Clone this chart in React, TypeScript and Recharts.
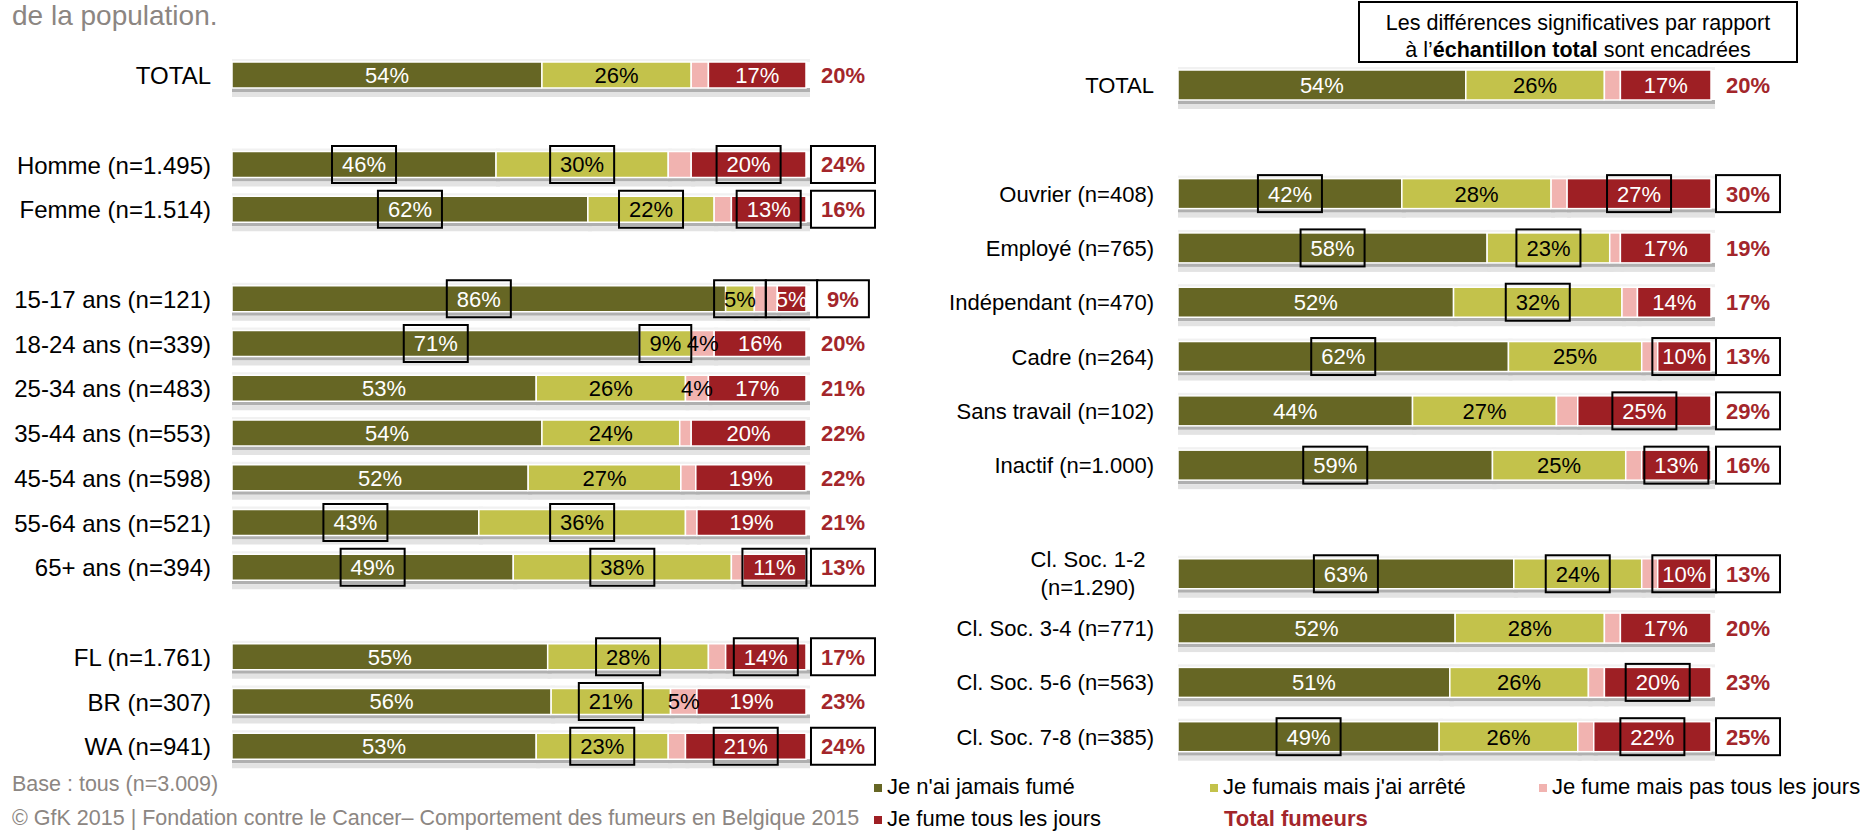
import React from 'react'
import { BarChart, Bar, XAxis, YAxis } from 'recharts'

const FONT = '"Liberation Sans", Arial, Helvetica, sans-serif'
const C_NEVER = '#666624'
const C_STOPPED = '#c3c24b'
const C_OCCASIONAL = '#f1b3b0'
const C_DAILY = '#9e1f24'
const C_TOTAL = '#a3262b'
const GREY_TEXT = '#8c8682'

const SERIES = [
  { key: 'never', name: "Je n'ai jamais fumé", color: C_NEVER, text: '#fff' },
  { key: 'stopped', name: "Je fumais mais j'ai arrêté", color: C_STOPPED, text: '#000' },
  { key: 'occasional', name: 'Je fume mais pas tous les jours', color: C_OCCASIONAL, text: '#000' },
  { key: 'daily', name: 'Je fume tous les jours', color: C_DAILY, text: '#fff' },
]

// left panel: sexe, âge, région (blank names are spacer rows)
const leftLabels = [
  'TOTAL', ' ', 'Homme (n=1.495)', 'Femme (n=1.514)', '  ',
  '15-17 ans (n=121)', '18-24 ans (n=339)', '25-34 ans (n=483)', '35-44 ans (n=553)',
  '45-54 ans (n=598)', '55-64 ans (n=521)', '65+ ans (n=394)', '   ',
  'FL (n=1.761)', 'BR (n=307)', 'WA (n=941)',
]
const leftNever = [54, null, 46, 62, null, 86, 71, 53, 54, 51.6, 43, 49, null, 55, 55.6, 53]
const leftStopped = [26, null, 30, 22, null, 5, 9, 26, 24, 26.6, 36, 38, null, 28, 20.8, 23]
const leftOccasional = [3, null, 4, 3, null, 4, 4, 4, 2, 2.6, 2, 2, null, 3, 4.6, 3]
const leftDaily = [17, null, 20, 13, null, 5, 16, 17, 20, 19.2, 19, 11, null, 14, 19, 21]
const leftTotal = [20, null, 24, 16, null, 9, 20, 21, 22, 22, 21, 13, null, 17, 23, 24]
const leftBoxes = {
  never: [2, 3, 5, 6, 10, 11],
  stopped: [2, 3, 5, 6, 10, 11, 13, 14, 15],
  occasional: [] as number[],
  daily: [2, 3, 5, 11, 13, 15],
  total: [2, 3, 5, 11, 13, 15],
}
const leftOccasionalShown = [6, 7, 14]

// right panel: profession, classe sociale
const rightLabels = [
  'TOTAL', ' ', 'Ouvrier (n=408)', 'Employé (n=765)', 'Indépendant (n=470)', 'Cadre (n=264)',
  'Sans travail (n=102)', 'Inactif (n=1.000)', '  ',
  'Cl. Soc. 1-2\n(n=1.290)', 'Cl. Soc. 3-4 (n=771)', 'Cl. Soc. 5-6 (n=563)', 'Cl. Soc. 7-8 (n=385)',
]
const rightNever = [54, null, 42, 58, 51.7, 62, 44, 59, null, 63, 52, 51, 49]
const rightStopped = [26, null, 28, 23, 31.6, 25, 27, 25, null, 24, 28, 26, 26]
const rightOccasional = [3, null, 3, 2, 2.9, 3, 4, 3, null, 3, 3, 3, 3]
const rightDaily = [17, null, 27, 17, 13.8, 10, 25, 13, null, 10, 17, 20, 22]
const rightTotal = [20, null, 30, 19, 17, 13, 29, 16, null, 13, 20, 23, 25]
const rightBoxes = {
  never: [2, 3, 5, 7, 9, 12],
  stopped: [3, 4, 9],
  occasional: [] as number[],
  daily: [2, 5, 6, 7, 9, 11, 12],
  total: [2, 5, 6, 7, 9, 12],
}
const rightOccasionalShown: number[] = []

function buildRows(labels: string[], never: any[], stopped: any[], occasional: any[], daily: any[], total: any[]) {
  return labels.map((name, i) => ({
    name,
    never: never[i],
    stopped: stopped[i],
    occasional: occasional[i],
    daily: daily[i],
    total: total[i],
  }))
}

const VALUE_FONT = 22
const BOX_H = 37

function ValueLabel({ cx, cy, value, color, boxed, bold }: any) {
  const txt = `${Math.round(value)}%`
  const w = (txt.length - 1) * 0.556 * VALUE_FONT + 0.889 * VALUE_FONT + 20
  return (
    <g>
      {boxed && (
        <rect x={cx - w / 2} y={cy - BOX_H / 2} width={w} height={BOX_H} fill={bold ? '#fff' : 'none'} stroke="#000" strokeWidth={2} />
      )}
      <text
        x={cx}
        y={cy}
        dy="0.36em"
        textAnchor="middle"
        fill={color}
        fontSize={VALUE_FONT}
        fontWeight={bold ? 'bold' : 'normal'}
        fontFamily={FONT}
      >
        {txt}
      </text>
    </g>
  )
}

function segment(x: number, y: number, width: number, height: number, fill: string) {
  return (
    <g>
      <rect x={x} y={y - 3} width={width + 4} height={3} fill="#f1f1f1" />
      <rect x={x} y={y + height} width={width + 4} height={4} fill="#b0b0b0" />
      <rect x={x} y={y + height + 4} width={width + 4} height={5} fill="#e3e3e3" />
      <rect x={x} y={y} width={width} height={height} fill={fill} stroke="#fff" strokeWidth={1.5} />
    </g>
  )
}

function makeSegmentShape(fill: string) {
  return (props: any) => {
    const { x, y, width, height } = props
    if (!width || width <= 0) return <g />
    return segment(x, y, width, height, fill)
  }
}

// the last segment also carries every label of its row, so they sit above all bars
function makeLastShape(boxes: any, occShown: number[]) {
  return (props: any) => {
    const { x, y, width, height, payload, index } = props
    if (!payload || payload.daily == null || !width) return <g />
    const k = width / payload.daily
    const left = x - (payload.never + payload.stopped + payload.occasional) * k
    const cy = y + height / 2
    const centers = [
      left + (payload.never / 2) * k,
      left + (payload.never + payload.stopped / 2) * k,
      left + (payload.never + payload.stopped + payload.occasional / 2) * k,
      x + width / 2,
    ]
    return (
      <g>
        {segment(x, y, width, height, C_DAILY)}
        {SERIES.map((s, i) => {
          if (s.key === 'occasional' && !occShown.includes(index)) return null
          return (
            <ValueLabel
              key={s.key}
              cx={centers[i]}
              cy={cy}
              value={payload[s.key]}
              color={s.text}
              boxed={boxes[s.key].includes(index)}
            />
          )
        })}
        <ValueLabel cx={x + width + 37} cy={cy} value={payload.total} color={C_TOTAL} boxed={boxes.total.includes(index)} bold />
      </g>
    )
  }
}

function CategoryTick({ x, y, payload, fontSize }: any) {
  const value: string = payload?.value ?? ''
  if (!value.trim()) return null
  const lines = value.split('\n')
  if (lines.length > 1) {
    return (
      <text x={x - 66} y={y} textAnchor="middle" fontSize={fontSize} fontFamily={FONT} fill="#000">
        {lines.map((l, i) => (
          <tspan key={i} x={x - 66} dy={i === 0 ? '-0.3em' : '1.25em'}>
            {l}
          </tspan>
        ))}
      </text>
    )
  }
  return (
    <text x={x} y={y} dy="0.36em" textAnchor="end" fontSize={fontSize} fontFamily={FONT} fill="#000">
      {value}
    </text>
  )
}

function Panel({ rows, boxes, occShown, width, height, margin, axisWidth, gap, barSize, fontSize }: any) {
  return (
    <BarChart layout="vertical" width={width} height={height} data={rows} margin={margin} barSize={barSize}>
      <XAxis type="number" domain={[0, 100]} hide />
      <YAxis
        type="category"
        dataKey="name"
        width={axisWidth}
        axisLine={false}
        tickLine={false}
        tickSize={0}
        tickMargin={gap}
        interval={0}
        tick={<CategoryTick fontSize={fontSize} />}
      />
      <Bar dataKey="never" stackId="a" fill={C_NEVER} shape={makeSegmentShape(C_NEVER)} isAnimationActive={false} />
      <Bar dataKey="stopped" stackId="a" fill={C_STOPPED} shape={makeSegmentShape(C_STOPPED)} isAnimationActive={false} />
      <Bar dataKey="occasional" stackId="a" fill={C_OCCASIONAL} shape={makeSegmentShape(C_OCCASIONAL)} isAnimationActive={false} />
      <Bar dataKey="daily" stackId="a" fill={C_DAILY} shape={makeLastShape(boxes, occShown)} isAnimationActive={false} />
    </BarChart>
  )
}

export default function App() {
  const leftRows = buildRows(leftLabels, leftNever, leftStopped, leftOccasional, leftDaily, leftTotal)
  const rightRows = buildRows(rightLabels, rightNever, rightStopped, rightOccasional, rightDaily, rightTotal)

  return (
    <div style={{ position: 'absolute', left: 0, top: 0, width: 1860, height: 832, background: '#fff', overflow: 'hidden', fontFamily: FONT }}>
      <svg width={1860} height={832} style={{ position: 'absolute', left: 0, top: 0 }}>
        <text x={12} y={25} fontSize={28} fill={GREY_TEXT} fontFamily={FONT}>de la population.</text>

        <rect x={1359} y={2} width={438} height={60} fill="#fff" stroke="#000" strokeWidth={2} />
        <text x={1578} y={30} textAnchor="middle" fontSize={21.5} fontFamily={FONT} fill="#000">
          Les différences significatives par rapport
        </text>
        <text x={1578} y={57} textAnchor="middle" fontSize={21.5} fontFamily={FONT} fill="#000">
          à l’<tspan fontWeight="bold">échantillon total</tspan> sont encadrées
        </text>

        <text x={12} y={791} fontSize={21.5} fill={GREY_TEXT} fontFamily={FONT}>Base : tous (n=3.009)</text>
        <text x={12} y={825} fontSize={21.5} fill={GREY_TEXT} fontFamily={FONT}>
          © GfK 2015 | Fondation contre le Cancer– Comportement des fumeurs en Belgique 2015
        </text>

        {[
          { s: SERIES[0], x: 874, y: 786 },
          { s: SERIES[1], x: 1210, y: 786 },
          { s: SERIES[2], x: 1539, y: 786 },
          { s: SERIES[3], x: 874, y: 818 },
        ].map(({ s, x, y }) => (
          <g key={s.key}>
            <rect x={x} y={y - 2} width={8} height={8} fill={s.color} />
            <text x={x + 13} y={y} dy="0.36em" fontSize={22} fontFamily={FONT} fill="#000">{s.name}</text>
          </g>
        ))}
        <text x={1224} y={818} dy="0.36em" fontSize={22} fontWeight="bold" fontFamily={FONT} fill={C_TOTAL}>Total fumeurs</text>
      </svg>

      <div style={{ position: 'absolute', left: 0, top: 0 }}>
        <Panel
          rows={leftRows}
          boxes={leftBoxes}
          occShown={leftOccasionalShown}
          width={900}
          height={780}
          margin={{ top: 53, right: 94, bottom: 11, left: 0 }}
          axisWidth={232}
          gap={21}
          barSize={26}
          fontSize={24}
        />
      </div>
      <div style={{ position: 'absolute', left: 900, top: 0 }}>
        <Panel
          rows={rightRows}
          boxes={rightBoxes}
          occShown={rightOccasionalShown}
          width={960}
          height={780}
          margin={{ top: 58, right: 149, bottom: 16, left: 0 }}
          axisWidth={278}
          gap={24}
          barSize={30}
          fontSize={22}
        />
      </div>
    </div>
  )
}
